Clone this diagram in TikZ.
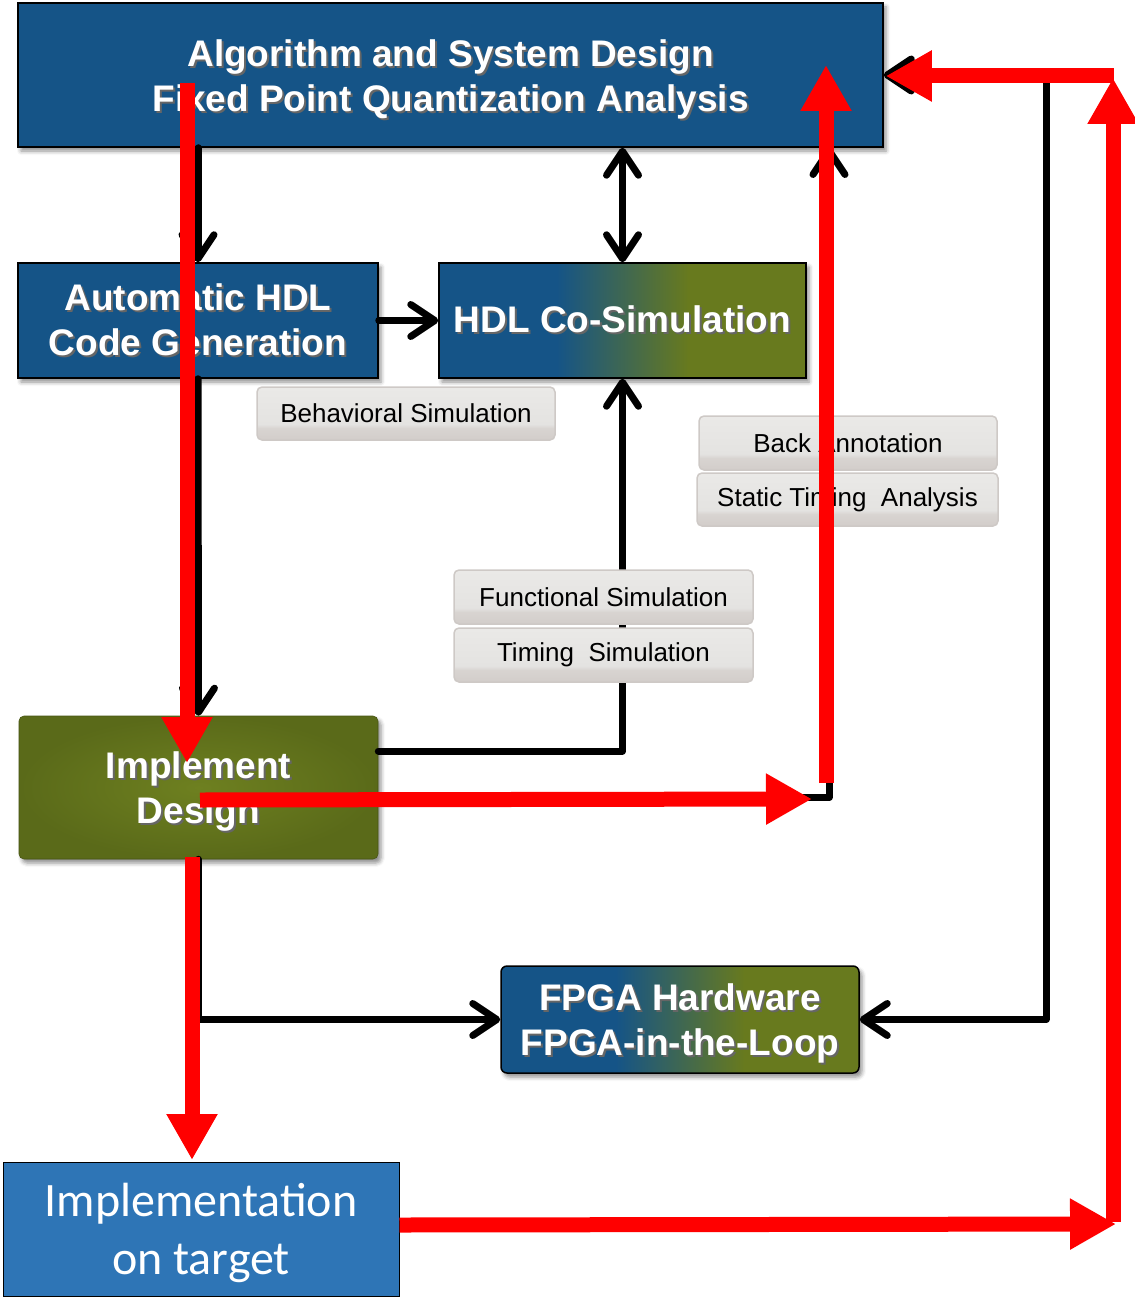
\documentclass[tikz,border=0pt]{standalone}
\usepackage{fontspec}
\setmainfont{Liberation Sans}
\newfontfamily\calibfont{Carlito}
\usetikzlibrary{arrows.meta,shadows.blur,calc}

\definecolor{boxblue}{RGB}{21,84,135}
\definecolor{boxolive}{RGB}{104,122,30}
\definecolor{oliveinner}{RGB}{110,128,32}
\definecolor{oliveouter}{RGB}{90,106,25}
\definecolor{targetblue}{RGB}{46,117,182}
\definecolor{chipTop}{RGB}{234,233,231}
\definecolor{chipMid}{RGB}{228,227,225}
\definecolor{chipLow}{RGB}{216,212,209}
\definecolor{chipBot}{RGB}{210,205,202}
\definecolor{chipLine}{RGB}{206,201,198}

% blue-to-olive blend across the middle of a box
\pgfdeclarehorizontalshading{blueolive}{100bp}{color(0bp)=(boxblue); color(25bp)=(boxblue); color(41bp)=(boxblue); color(59bp)=(boxolive); color(75bp)=(boxolive); color(100bp)=(boxolive)}
% glossy grey label buttons
\pgfdeclareverticalshading{chipshade}{100bp}{color(0bp)=(chipBot); color(25bp)=(chipBot); color(36bp)=(chipLow); color(40bp)=(chipMid); color(75bp)=(chipTop); color(100bp)=(chipTop)}

% white headline text with a dark drop shadow
\newcommand\tsh[1]{\leavevmode\rlap{\kern2pt\raisebox{-2pt}{\textcolor{black!60}{#1}}}#1}
% extra head room on a first line, to balance descenders below
\newcommand\headroom[1]{\rule{0pt}{#1}}

\tikzset{
  boxshadow/.style={blur shadow={shadow xshift=3pt, shadow yshift=-4pt, shadow blur radius=4pt, shadow opacity=45}},
  headtext/.style={text=white, font=\bfseries\fontsize{37}{45}\selectfont, align=center, inner sep=0pt},
  bluebox/.style={headtext, draw=black, line width=1.5pt, fill=boxblue, boxshadow},
  mixbox/.style={headtext, draw=black, line width=1.5pt, shading=blueolive, boxshadow},
  olivebox/.style={headtext, rounded corners=5pt, draw=oliveouter!80!black, line width=0.6pt, inner color=oliveinner, outer color=oliveouter, boxshadow},
  targetbox/.style={draw=black, line width=1pt, fill=targetblue, text=white, font=\calibfont\fontsize{48}{58}\selectfont, align=center, inner sep=0pt},
  chip/.style={draw=chipLine, line width=1.5pt, rounded corners=5pt, shading=chipshade, text=black, font=\fontsize{26}{30}\selectfont, inner sep=0pt},
  chev/.tip={Straight Barb[length=24pt, width=32pt, round]},
  blk/.style={draw=black, line width=7pt, line cap=round, line join=round},
  redarr/.style={draw=red, line width=15pt, -{Triangle[length=46pt, width=48pt]}},
}

\begin{document}
\begin{tikzpicture}[x=1pt, y=-1pt]
\useasboundingbox (0,0) rectangle (1134,1297);

% process boxes
\node[bluebox, minimum width=865pt, minimum height=144pt] (top) at (450.5,75)
  {\headroom{37pt}\tsh{Algorithm and System Design}\\\tsh{Fixed Point Quantization Analysis}};
\node[bluebox, minimum width=360pt, minimum height=115pt] (autogen) at (198,320.5)
  {\tsh{Automatic HDL}\\\tsh{Code Generation}};
\node[mixbox, minimum width=367pt, minimum height=115pt] (cosim) at (622.5,320.5)
  {\tsh{HDL Co-Simulation}};
\node[olivebox, minimum width=359pt, minimum height=143pt] (impl) at (198.5,787.5)
  {\headroom{37pt}\tsh{Implement}\\\tsh{Design}};
\node[mixbox, rounded corners=6pt, minimum width=358pt, minimum height=107pt] (fpga) at (680,1019.5)
  {\headroom{37pt}\tsh{FPGA Hardware}\\\tsh{FPGA-in-the-Loop}};
\node[targetbox, minimum width=396pt, minimum height=134pt] (target) at (201,1229)
  {\headroom{42pt}Implementation\\on target};

% anchor points of the feedback rails
\coordinate (fbtop) at (829,147);
\coordinate (railx) at (1046,500);

% black flow connectors
\draw[blk, -{chev}] (autogen.north |- top.south) -- (autogen.north);
\draw[blk, -{chev}] (autogen.east) -- (cosim.west);
\draw[blk, {chev}-{chev}] (cosim.north |- top.south) -- (cosim.north);
\draw[blk, -{chev}] (autogen.south) -- (impl.north);
\draw[blk, -{chev}] ([yshift=36.5pt]impl.east) -| (cosim.south);
\draw[blk, -{chev}] ([yshift=-10pt]impl.east) -| (fbtop);
\draw[blk, -{chev}] (impl.south) |- (fpga.west);
\draw[blk, {chev}-{chev}] (fpga.east) -| (railx) |- (top.east);

% simulation and analysis labels
\node[chip, minimum width=298pt, minimum height=53pt] (behav) at (406,413.5) {Behavioral Simulation};
\node[chip, minimum width=298pt, minimum height=54pt] (backann) at (848,443) {Back Annotation};
\node[chip, minimum width=301pt, minimum height=53pt] (sta) at (847.5,499.5) {Static Timing\ \ Analysis};
\node[chip, minimum width=299pt, minimum height=54pt] (funcsim) at (603.5,597) {Functional Simulation};
\node[chip, minimum width=299pt, minimum height=54pt] (timsim) at (603.5,655) {Timing\ \ Simulation};

% red overlay path
\coordinate (r1a) at (187,83);   \coordinate (r1b) at (187,763);
\coordinate (r2a) at (200,800);  \coordinate (r2b) at (812,799);
\coordinate (r3a) at (826,783);  \coordinate (r3b) at (826,65);
\coordinate (r4a) at (192,857);  \coordinate (r4b) at (192,1160);
\coordinate (r5b) at (1116,1224);
\coordinate (r6a) at (1113,1222); \coordinate (r6b) at (1113,78);
\coordinate (r7a) at (1114,76);

\draw[redarr] (r1a) -- (r1b);
\draw[redarr] (r2a) -- (r2b);
\draw[redarr] (r3a) -- (r3b);
\draw[redarr] (r4a) -- (r4b);
\draw[redarr] ([yshift=4pt]target.east) -- (r5b);
\draw[redarr] (r6a) -- (r6b);
\draw[redarr] (r7a) -- ([xshift=2pt,yshift=-1pt]top.east);
\end{tikzpicture}
\end{document}
